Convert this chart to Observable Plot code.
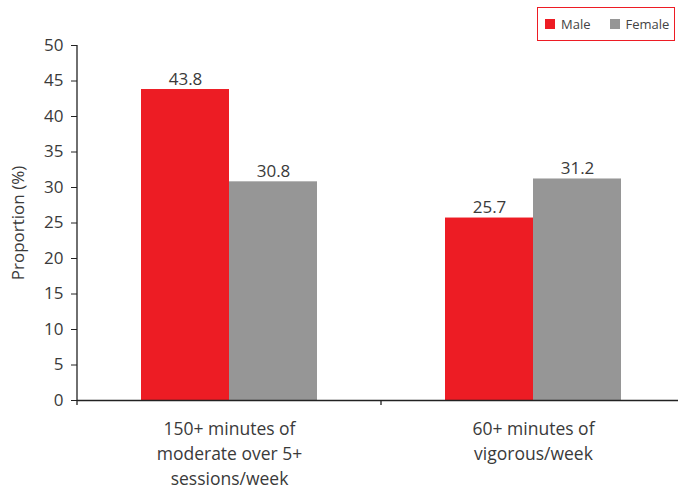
<!DOCTYPE html>
<html><head><meta charset="utf-8">
<script src="https://cdn.jsdelivr.net/npm/d3@7"></script>
<script src="https://cdn.jsdelivr.net/npm/@observablehq/plot@0.6"></script>
<style>
body{margin:0;background:#fff;font-family:"Open Sans",sans-serif;}
#wrap{position:relative;width:678px;height:493px;}
#legend{position:absolute;left:537px;top:7px;width:138px;height:34px;border:1.5px solid #ED1C24;box-sizing:border-box;display:flex;align-items:center;padding-left:7px;font-size:13px;color:#444;background:#fff;}
#legend .sw{width:10px;height:10px;display:inline-block;margin-right:6px;}
#legend .it{display:flex;align-items:center;margin-right:19px;}
</style>
</head><body>
<div id="wrap"><div id="legend"></div></div>
<script>
const categories = ["150+ minutes of moderate over 5+ sessions/week", "60+ minutes of vigorous/week"];
const categoryLabels = ["150+ minutes of\nmoderate over 5+\nsessions/week", "60+ minutes of\nvigorous/week"];
const sexes = ["Male", "Female"];
const maleValues = [43.8, 25.7];
const femaleValues = [30.8, 31.2];
const sexColors = ["#ED1C24", "#969696"];
const yTicks = [0, 5, 10, 15, 20, 25, 30, 35, 40, 45, 50];

const data = [];
categories.forEach((c, i) => {
  data.push({category: c, sex: "Male", value: maleValues[i]});
  data.push({category: c, sex: "Female", value: femaleValues[i]});
});

const plot = Plot.plot({
  width: 678, height: 493,
  marginLeft: 77, marginRight: -7, marginTop: 45, marginBottom: 93,
  style: {fontFamily: "Open Sans, sans-serif", fontSize: "17px", color: "#3a3a3a", background: "transparent"},
  fx: {domain: categories, padding: 0, label: null},
  x: {domain: sexes, paddingInner: 0, paddingOuter: 0.727, axis: null},
  y: {domain: [0, 50]},
  color: {domain: sexes, range: sexColors},
  marks: [
    Plot.axisY({ticks: yTicks, tickSize: 6, tickPadding: 8, label: "Proportion (%)", labelAnchor: "center", labelArrow: "none", labelOffset: 66, fontSize: 17, stroke: "#222"}),
    Plot.axisFx({anchor: "bottom", tickSize: 0, tickPadding: 17, tickFormat: (d) => categoryLabels[categories.indexOf(d)], lineHeight: 1.43, fontSize: 17.5, label: null}),
    Plot.barY(data, {fx: "category", x: "sex", y: "value", fill: "sex"}),
    Plot.text(data, {fx: "category", x: "sex", y: "value", text: d => d.value.toFixed(1), lineAnchor: "bottom", dy: -5, fontSize: 17, fill: "#3a3a3a"}),
    Plot.ruleY([0], {stroke: "#222", strokeWidth: 1.3})
  ]
});

document.getElementById("wrap").prepend(plot);

// axis domain line and category boundary ticks
const ys = plot.scale("y"), fxs = plot.scale("fx");
const svg = d3.select(plot);
const y0 = ys.apply(0), yTop = ys.apply(50);
const x0 = fxs.apply(categories[0]);
svg.append("line").attr("x1", x0).attr("x2", x0).attr("y1", yTop).attr("y2", y0 + 5).attr("stroke", "#222").attr("stroke-width", 1.3);
categories.forEach(c => {
  const xb = fxs.apply(c) + fxs.bandwidth;
  svg.append("line").attr("x1", xb).attr("x2", xb).attr("y1", y0).attr("y2", y0 + 5).attr("stroke", "#222").attr("stroke-width", 1.3);
});

// legend
const lg = d3.select("#legend");
sexes.forEach((s, i) => {
  const it = lg.append("div").attr("class", "it");
  it.append("span").attr("class", "sw").style("background", sexColors[i]);
  it.append("span").text(s);
});
</script>
</body></html>
